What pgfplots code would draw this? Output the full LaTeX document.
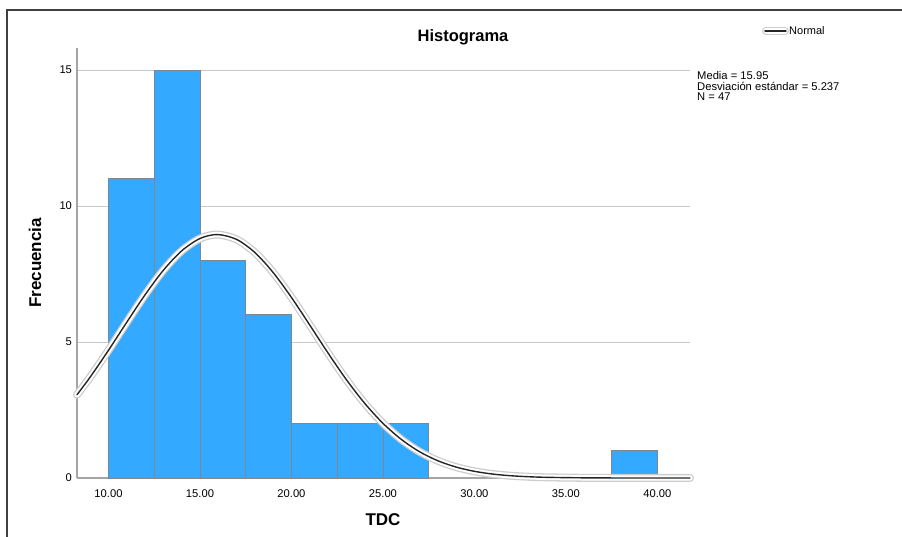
\documentclass[border=0pt]{standalone}
\usepackage{fontspec}
\setmainfont{Liberation Sans}
\usepackage{pgfplots}
\usepackage{pgfplotstable}
\pgfplotsset{compat=1.18}

\definecolor{barblue}{RGB}{51,170,255}
\definecolor{baredge}{RGB}{125,135,145}
\definecolor{gridgray}{RGB}{200,200,200}
\definecolor{axisgray}{RGB}{165,165,165}

% fitted normal curve (mean 15.95, sd 5.237, N 47, bin 2.5)
\pgfplotstableread{
x y
8.28 3.062
9 3.710
10 4.695
11 5.727
12 6.736
13 7.638
14 8.351
15 8.805
15.95 8.951
17 8.773
18 8.291
19 7.555
20 6.638
21 5.623
22 4.593
23 3.617
24 2.747
25 2.011
26 1.420
27 0.966
28 0.634
29 0.401
30 0.245
31 0.144
32 0.082
33 0.045
34 0.024
36 0.006
38 0.001
41.78 0
}\normalcurve

\begin{document}
\begin{tikzpicture}
\useasboundingbox (0pt,0pt) rectangle (902pt,537pt);
\draw[line width=1.8pt, black!75] (7pt,0pt) -- (7pt,527pt) -- (902pt,527pt);

\begin{axis}[
    scale only axis,
    width=613pt, height=430pt,
    at={(77pt,59pt)}, anchor=south west,
    xmin=8.28, xmax=41.78,
    ymin=0, ymax=15.81,
    axis x line*=bottom, axis y line*=left,
    axis line style={axisgray, line width=1.2pt, -},
    xtick={10,15,20,25,30,35,40},
    xticklabels={10.00,15.00,20.00,25.00,30.00,35.00,40.00},
    ytick={0,5,10,15},
    yticklabels={0,5,10,15},
    major tick length=0pt,
    ymajorgrids=true,
    grid style={gridgray, line width=1pt},
    tick label style={font=\fontsize{11.2}{13}\selectfont},
    xticklabel style={yshift=-8pt},
    yticklabel style={xshift=-1.5pt},
    clip=false,
]

\addplot[ybar interval, fill=barblue, draw=baredge, line width=0.9pt]
    coordinates {(10,11)(12.5,15)(15,8)(17.5,6)(20,2)(22.5,2)(25,2)(27.5,2)};
\addplot[ybar interval, fill=barblue, draw=baredge, line width=0.9pt]
    coordinates {(37.5,1)(40,1)};

\addplot[smooth, gray!40, line width=8pt, line cap=round] table {\normalcurve};
\addplot[smooth, white, line width=5.4pt, line cap=round] table {\normalcurve};
\addplot[smooth, black!85, line width=1.4pt, line cap=round] table {\normalcurve};

\end{axis}

\node[anchor=base, font=\fontsize{16.5}{18}\selectfont\bfseries] at (463pt,495pt) {Histograma};
\node[anchor=base, font=\fontsize{17}{19}\selectfont\bfseries] at (383pt,11pt) {TDC};
\node[rotate=90, font=\fontsize{17}{19}\selectfont\bfseries] at (35pt,274pt) {Frecuencia};

\draw[gray!40, line width=8pt, line cap=round] (766pt,506pt) -- (785pt,506pt);
\draw[white, line width=5.4pt, line cap=round] (766pt,506pt) -- (785pt,506pt);
\draw[black!85, line width=1.4pt, line cap=round] (765pt,506pt) -- (786pt,506pt);
\node[anchor=west, inner sep=0pt, font=\fontsize{11}{12}\selectfont] at (789pt,506pt) {Normal};

\node[anchor=north west, inner sep=0pt, align=left,
      font=\fontsize{11.2}{10.8}\selectfont] at (697pt,466pt)
    {Media = 15.95\\Desviación estándar = 5.237\\N = 47};
\end{tikzpicture}
\end{document}
